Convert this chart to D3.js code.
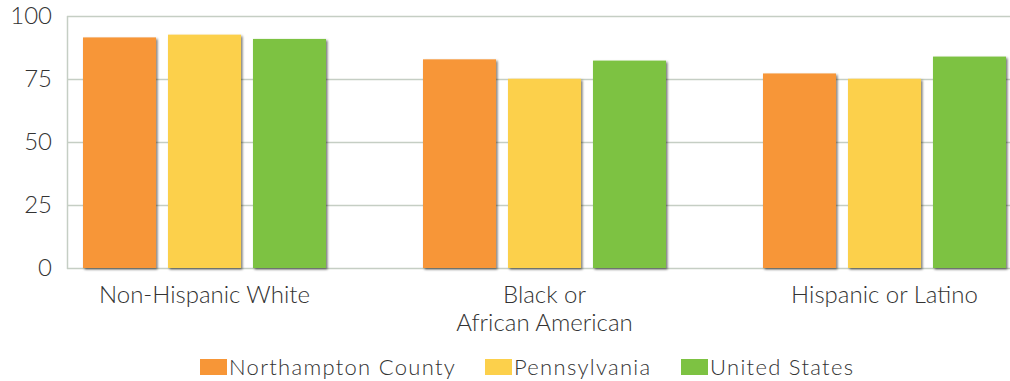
<!DOCTYPE html>
<html>
<head>
<meta charset="utf-8">
<script src="https://cdn.jsdelivr.net/npm/d3@7"></script>
<style>
  body { margin: 0; background: #fff; }
  svg text { font-family: Lato, "Open Sans", sans-serif; font-weight: 300; fill: #333; }
</style>
</head>
<body>
<div class="chart"></div>
<script>
// chart data
var categories = ["Non-Hispanic White", "Black or\nAfrican American", "Hispanic or Latino"];
var seriesNames = ["Northampton County", "Pennsylvania", "United States"];
var seriesColors = ["#F79637", "#FCD04B", "#7DC242"];
var northampton = [91.5, 82.8, 77.2];
var pennsylvania = [92.6, 75.1, 75.1];
var unitedStates = [90.9, 82.3, 83.9];
var yTicks = [0, 25, 50, 75, 100];

var seriesValues = [northampton, pennsylvania, unitedStates];

var width = 1010, height = 381;

var svg = d3.select(".chart").append("svg")
    .attr("width", width)
    .attr("height", height);

// drop shadow for the bars
var defs = svg.append("defs");
var filter = defs.append("filter")
    .attr("id", "shadow")
    .attr("x", "-10%").attr("y", "-10%")
    .attr("width", "130%").attr("height", "130%");
filter.append("feDropShadow")
    .attr("dx", 1.5).attr("dy", 1.5)
    .attr("stdDeviation", 1.2)
    .attr("flood-color", "#000")
    .attr("flood-opacity", 0.55);

var plotLeft = 67, plotRight = 1010;

var yScale = d3.scaleLinear()
    .domain([0, 100])
    .range([268, 16]);

//outer scale for the groups
var x0 = d3.scaleBand()
    .domain(categories)
    .range([83, 1006])
    .paddingInner(0.2853)
    .paddingOuter(0);

//inner scale for the series
var x1 = d3.scaleBand()
    .domain(seriesNames)
    .range([0, x0.bandwidth()])
    .paddingInner(0.141)
    .paddingOuter(0);

//gridlines
svg.append("g")
    .attr("class", "grid")
    .selectAll("line")
    .data(yTicks)
    .enter().append("line")
    .attr("x1", plotLeft)
    .attr("x2", plotRight)
    .attr("y1", function(d) { return Math.round(yScale(d)) + 0.5; })
    .attr("y2", function(d) { return Math.round(yScale(d)) + 0.5; })
    .attr("stroke", "#c5cec4")
    .attr("stroke-width", 1.5);

//left border of the plot
svg.append("line")
    .attr("x1", plotLeft + 0.5).attr("x2", plotLeft + 0.5)
    .attr("y1", yScale(100)).attr("y2", yScale(0) + 1)
    .attr("stroke", "#c5cec4")
    .attr("stroke-width", 1.5);

//y axis labels
var yAxis = d3.axisLeft(yScale)
    .tickValues(yTicks)
    .tickSize(0)
    .tickPadding(15);

var yg = svg.append("g")
    .attr("transform", "translate(" + plotLeft + ",0)")
    .call(yAxis);
yg.select(".domain").remove();
yg.selectAll("text")
    .style("font-size", "24px")
    .style("font-family", "Lato, sans-serif")
    .style("font-weight", 300)
    .attr("fill", "#333");

//bars
var groups = svg.selectAll(".group")
    .data(categories)
    .enter().append("g")
    .attr("class", "group")
    .attr("transform", function(d) { return "translate(" + x0(d) + ",0)"; });

groups.selectAll("rect")
    .data(function(d, i) {
        return seriesNames.map(function(s, j) {
            return {series: s, value: seriesValues[j][i], color: seriesColors[j]};
        });
    })
    .enter().append("rect")
    .attr("x", function(d) { return x1(d.series); })
    .attr("y", function(d) { return yScale(d.value); })
    .attr("width", x1.bandwidth())
    .attr("height", function(d) { return yScale(0) - yScale(d.value); })
    .attr("fill", function(d) { return d.color; })
    .attr("filter", "url(#shadow)");

//category labels, split on newline
svg.selectAll(".catLabel")
    .data(categories)
    .enter().append("text")
    .attr("class", "catLabel")
    .attr("text-anchor", "middle")
    .style("font-size", "24px")
    .each(function(d) {
        var lines = d.split("\n");
        var cx = x0(d) + x0.bandwidth() / 2;
        var t = d3.select(this);
        lines.forEach(function(line, k) {
            t.append("tspan")
                .attr("x", cx)
                .attr("y", 303 + k * 28)
                .text(line);
        });
    });

//legend
var legendX = [200, 485, 681];
var legend = svg.selectAll(".legend")
    .data(seriesNames)
    .enter().append("g")
    .attr("class", "legend")
    .attr("transform", function(d, i) { return "translate(" + legendX[i] + ",359)"; });

legend.append("rect")
    .attr("width", 27)
    .attr("height", 16)
    .attr("fill", function(d, i) { return seriesColors[i]; });

legend.append("text")
    .attr("x", 29)
    .attr("y", 15.5)
    .style("font-size", "22px")
    .style("letter-spacing", "1.3px")
    .text(function(d) { return d; });
</script>
</body>
</html>
